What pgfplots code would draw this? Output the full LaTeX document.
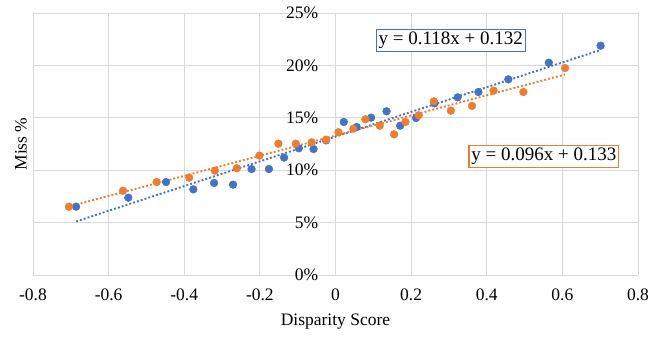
\documentclass[border=0pt]{standalone}
\usepackage{fontspec}
\setmainfont{Liberation Serif}
\usepackage{pgfplots}
\pgfplotsset{compat=1.18}
\definecolor{xblue}{HTML}{4472C4}
\definecolor{xorange}{HTML}{ED7D31}
\definecolor{xgrid}{HTML}{D9D9D9}
\begin{document}
\fontsize{17.5bp}{21bp}\selectfont
\begin{tikzpicture}
\begin{axis}[
  scale only axis,
  width=605bp, height=262bp,
  xmin=-0.8, xmax=0.8, ymin=0, ymax=25,
  axis x line=bottom, axis y line=center,
  hide obscured x ticks=false, hide obscured y ticks=false,
  axis line style={-, draw=xgrid, line width=0.8bp},
  xtick={-0.8,-0.6,-0.4,-0.2,0,0.2,0.4,0.6,0.8},
  xticklabels={-0.8,-0.6,-0.4,-0.2,0,0.2,0.4,0.6,0.8},
  ytick={0,5,10,15,20,25},
  yticklabels={0\%,5\%,10\%,15\%,20\%,25\%},
  major tick length=0pt,
  grid=major,
  major grid style={draw=xgrid, line width=0.8bp},
  xticklabel style={anchor=center, inner sep=0pt, yshift=-20bp},
  yticklabel style={anchor=east, inner sep=0pt, xshift=-17bp},
  /pgf/number format/assume math mode=true,
  clip=false,
]
\addplot[only marks, mark=*, mark size=3.9bp, color=xblue, mark options={draw=xblue, fill=xblue}] coordinates {
(-0.686,6.52) (-0.548,7.38) (-0.448,8.87) (-0.376,8.17) (-0.321,8.78) (-0.271,8.62)
(-0.222,10.11) (-0.176,10.11) (-0.136,11.20) (-0.097,12.09) (-0.058,12.02) (-0.025,12.85)
(0.022,14.60) (0.056,14.12) (0.094,15.01) (0.135,15.62) (0.171,14.25) (0.213,14.98)
(0.262,16.38) (0.323,16.95) (0.378,17.46) (0.457,18.67) (0.564,20.26) (0.701,21.88)
};
\addplot[only marks, mark=*, mark size=3.9bp, color=xorange, mark options={draw=xorange, fill=xorange}] coordinates {
(-0.705,6.52) (-0.562,8.04) (-0.473,8.87) (-0.387,9.29) (-0.319,9.96) (-0.261,10.18)
(-0.201,11.39) (-0.151,12.53) (-0.105,12.53) (-0.063,12.66) (-0.025,12.91) (0.008,13.62)
(0.047,13.96) (0.079,14.86) (0.117,14.25) (0.155,13.42) (0.185,14.60) (0.220,15.24)
(0.260,16.57) (0.305,15.68) (0.361,16.13) (0.418,17.59) (0.497,17.46) (0.607,19.75)
};
\addplot[xblue, line width=1.9bp, dash pattern=on 1.9bp off 2.1bp] coordinates {(-0.686,5.11) (0.701,21.47)};
\addplot[xorange, line width=1.9bp, dash pattern=on 1.9bp off 2.1bp] coordinates {(-0.705,6.53) (0.607,19.13)};
\node[draw=xblue, fill=white, line width=1.3bp, inner xsep=2.5bp, inner ysep=2.5bp, font=\fontsize{19bp}{22bp}\selectfont] at (axis cs:0.305,22.36) {y = 0.118x + 0.132};
\node[draw=xorange, fill=white, line width=1.3bp, inner xsep=2.5bp, inner ysep=2.5bp, font=\fontsize{19bp}{22bp}\selectfont] at (axis cs:0.551,11.31) {y = 0.096x + 0.133};
\node[rotate=90, anchor=center] at ([xshift=-12bp]rel axis cs:0,0.5) {Miss \%};
\node[anchor=center] at ([yshift=-47bp]rel axis cs:0.5,0) {Disparity Score};
\coordinate (bl) at ([xshift=-33bp, yshift=-62bp]rel axis cs:0,0);
\coordinate (tr) at ([xshift=24bp, yshift=13bp]rel axis cs:1,1);
\end{axis}
\pgfresetboundingbox
\path[use as bounding box] (bl) rectangle (tr);
\end{tikzpicture}
\end{document}
